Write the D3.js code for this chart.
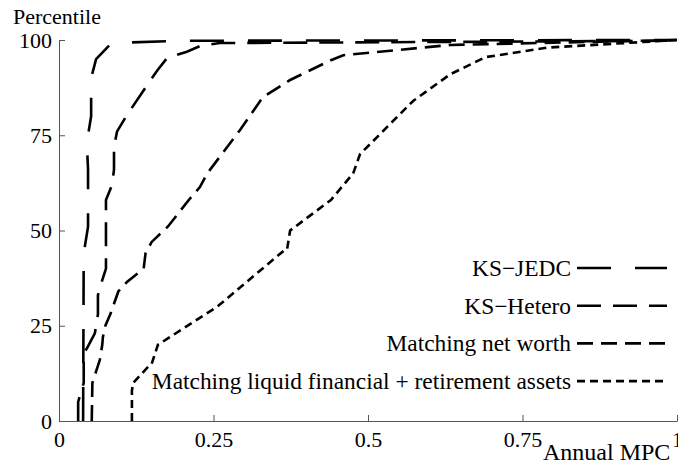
<!DOCTYPE html>
<html lang="en">
<head>
<meta charset="UTF-8" />
<title>MPC distribution</title>
<script src="https://d3js.org/d3.v7.min.js"></script>
<style>
  body { margin: 0; background: #fff; }
  svg text { font-family: "Liberation Serif", "Times New Roman", serif; fill: #000; }
</style>
</head>
<body>
<div id="chart"></div>
<script>
// data: [annual MPC, percentile]
const ksJedc = [[0.039,0],[0.04,44],[0.047,51],[0.047,66],[0.045,73],[0.052,80],[0.052,90],
  [0.06,95],[0.085,99.2],[0.2,99.8],[1,100]];
const ksHetero = [[0.031,0],[0.031,5],[0.04,10],[0.04,18],[0.045,19],[0.058,23],[0.063,28],
  [0.063,33],[0.07,37],[0.076,40],[0.076,58],[0.086,62],[0.089,66],[0.089,72],[0.094,76],
  [0.11,80.3],[0.142,88],[0.159,92],[0.175,95.3],[0.207,96.9],[0.228,98.4],[0.26,99.2],[1,99.8]];
const netWorth = [[0.053,0],[0.054,10],[0.06,13],[0.066,16],[0.07,20],[0.071,22],[0.075,25],
  [0.083,28],[0.096,34],[0.11,36.5],[0.137,40],[0.14,44],[0.15,47],[0.176,51],[0.21,58],
  [0.228,61.4],[0.24,65],[0.293,76.4],[0.33,85],[0.374,89.5],[0.44,94.7],[0.46,96],
  [0.633,98.7],[1,100]];
const liquidRet = [[0.118,0],[0.118,8],[0.12,10],[0.147,14.7],[0.15,15],[0.16,20],[0.256,30],
  [0.366,45],[0.369,45],[0.374,50],[0.44,58],[0.476,65],[0.487,70],[0.536,78],[0.573,84],
  [0.633,91],[0.69,95.5],[0.79,98],[1,100]];

const seriesNames = ["KS\u2212JEDC", "KS\u2212Hetero", "Matching net worth",
  "Matching liquid financial + retirement assets"];
const seriesData = [ksJedc, ksHetero, netWorth, liquidRet];
const dashes = ["34,24", "24,12", "16,8", "8,5"];

const xTicks = [0, 0.25, 0.5, 0.75, 1];
const xTickLabels = ["0", "0.25", "0.5", "0.75", "1"];
const yTicks = [0, 25, 50, 75, 100];

const W = 678, H = 464;
const margin = { top: 40, right: 0, bottom: 43, left: 59 };
const width = W - margin.left - margin.right,
      height = H - margin.top - margin.bottom;

const svg = d3.select("#chart").append("svg")
  .attr("width", W).attr("height", H);
const g = svg.append("g")
  .attr("transform", `translate(${margin.left},${margin.top})`);

const x = d3.scaleLinear().domain([0, 1]).range([0, width - 1]);
const y = d3.scaleLinear().domain([0, 100]).range([height, 0]);

// axes, ticks pointing inward
const xAxis = g.append("g")
  .attr("transform", `translate(0,${height})`)
  .call(d3.axisBottom(x).tickValues(xTicks).tickSizeInner(-6).tickSizeOuter(0)
    .tickFormat((d, i) => xTickLabels[i]));
const yAxis = g.append("g")
  .call(d3.axisLeft(y).tickValues(yTicks).tickSizeInner(-6).tickSizeOuter(0).tickPadding(7));

[xAxis, yAxis].forEach(a => {
  a.select(".domain").attr("stroke", "#555");
  a.selectAll(".tick line").attr("stroke", "#555");
  a.selectAll("text").style("font-family", "Liberation Serif").style("font-size", "22px").attr("fill", "#000");
});
xAxis.selectAll("text").attr("dy", null).attr("y", 26);

// lines
const line = d3.line().x(d => x(d[0])).y(d => y(d[1]));
g.selectAll("path.curve")
  .data(seriesData)
  .join("path")
  .attr("class", "curve")
  .attr("d", line)
  .attr("fill", "none")
  .attr("stroke", "#000")
  .attr("stroke-width", 2.6)
  .attr("stroke-dasharray", (d, i) => dashes[i]);

// axis titles
svg.append("text")
  .attr("x", 13).attr("y", 24)
  .style("font-size", "22px")
  .text("Percentile");
svg.append("text")
  .attr("x", 543).attr("y", 460)
  .style("font-size", "24px")
  .text("Annual MPC");

// legend
const legend = svg.append("g").attr("transform", "translate(573,268)");
seriesNames.forEach((name, i) => {
  const row = legend.append("g").attr("transform", `translate(0,${i * 37.7})`);
  row.append("text")
    .attr("x", -2).attr("y", 8)
    .attr("text-anchor", "end")
    .style("font-size", "23.4px")
    .text(name);
  row.append("line")
    .attr("x1", 4).attr("x2", 94)
    .attr("y1", 0).attr("y2", 0)
    .attr("stroke", "#000")
    .attr("stroke-width", 2.6)
    .attr("stroke-dasharray", dashes[i]);
});
</script>
</body>
</html>
